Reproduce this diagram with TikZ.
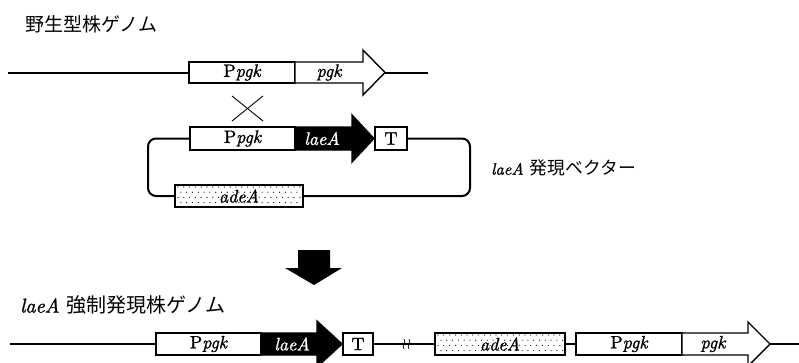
\documentclass[tikz,border=0pt]{standalone}
\usepackage{fontspec}
\setmainfont{lmroman10-regular.otf}[FakeBold=1.2, ItalicFont=lmroman10-italic.otf, ItalicFeatures={FakeBold=1.2}, BoldFont=lmroman10-bold.otf]
\newfontfamily\cjk{Noto Sans CJK JP}
\newcommand\gi[1]{{\itshape #1}}
\begin{document}
\begin{tikzpicture}[x=1pt,y=-1pt,
  gline/.style={line width=2pt},
  gbox/.style={draw, fill=white, line width=1.4pt, minimum height=22pt, inner sep=0pt, outer sep=0pt, font=\fontsize{18}{18}\selectfont},
  garrow/.style={draw, line width=1.4pt, line join=miter},
  gtext/.style={inner sep=0pt, font=\fontsize{18}{18}\selectfont},
  cross/.style={line width=0.9pt},
  dotstyle/.style={fill=black}
]
\useasboundingbox (0,0) rectangle (799,362);

% ---------- title
\node[anchor=west, inner sep=0pt] (title) at (25,24) {\cjk\fontsize{19}{19}\selectfont 野生型株ゲノム};

% ---------- wild-type genome
\coordinate (wL) at (8,72.5);
\coordinate (wR) at (428,72.5);
\draw[gline] (wL) -- (wR);
\node[gbox, minimum width=106pt, minimum height=21pt] (wP) at (242,72.5) {P\gi{pgk}};
\draw[garrow, fill=white] (295,62) -- (363,62) -- (363,50) -- (385,72.5) -- (363,95) -- (363,83) -- (295,83) -- cycle;
\node[gtext] (wG) at (329,72.5) {\gi{pgk}};

% ---------- crossover
\coordinate (c1) at (232,96);
\coordinate (c2) at (263,121);
\coordinate (c3) at (232,121);
\coordinate (c4) at (263,96);
\draw[cross] (c1) -- (c2);
\draw[cross] (c3) -- (c4);

% ---------- vector
\node[gbox, minimum width=105pt, minimum height=23pt] (vP) at (242.5,138.5) {P\gi{pgk}};
\node[gbox, minimum width=32pt, minimum height=23pt] (vT) at (391,138.5) {T};
\node[gbox, minimum width=128pt, minimum height=22pt] (vA) at (239,196) {};
\begin{scope}
  \clip (vA.north west) rectangle (vA.south east);
  \foreach \j [evaluate=\j as \off using {mod(\j,2)*2.9+3}, evaluate=\j as \yy using {\j*5.2+2}] in {0,...,4} {
    \foreach \i [evaluate=\i as \xx using {\i*5.8+\off}] in {0,...,23} {
      \fill[dotstyle] ([shift={(\xx,\yy)}]vA.north west) circle (0.6pt);
    }
  }
\end{scope}
\draw[line width=1.4pt] (vA.north west) rectangle (vA.south east);
\node[gtext] (vAt) at (vA.center) {\gi{adeA}};
\draw[garrow, fill=black] (295,127) -- (352,127) -- (352,115) -- (374,138.5) -- (352,162) -- (352,150) -- (295,150) -- cycle;
\node[gtext, text=white] (vL) at (322,138.5) {\gi{laeA}};
\coordinate (lp1) at (470,138.5);
\coordinate (lp2) at (470,196);
\coordinate (lp3) at (148,196);
\coordinate (lp4) at (148,138.5);
\draw[gline, rounded corners=8pt] (vT.east) -- (lp1) -- (lp2) -- (vA.east);
\draw[gline, rounded corners=8pt] (vA.west) -- (lp3) -- (lp4) -- (vP.west);
\node[anchor=west, inner sep=0pt] (vlabel) at (491,168) {\fontsize{16.5}{16.5}\selectfont\gi{laeA}\hspace{6pt}\cjk\fontsize{17.8}{17.8}\selectfont 発現ベクター};

% ---------- big down arrow
\fill[black] (298,250) -- (330,250) -- (330,268) -- (342,268) -- (314,285) -- (285,268) -- (298,268) -- cycle;

% ---------- lower label
\node[anchor=west, inner sep=0pt] (blabel) at (20,305) {\fontsize{20}{20}\selectfont\gi{laeA}\ \cjk\fontsize{20}{20}\selectfont 強制発現株ゲノム};

% ---------- recombinant genome
\coordinate (bL) at (10,344);
\coordinate (bR) at (799,344);
\draw[gline] (bL) -- (bR);
\node[gbox, minimum width=105pt] (bP1) at (208.5,344) {P\gi{pgk}};
\draw[garrow, fill=black] (261,333) -- (317,333) -- (317,321) -- (342,344) -- (317,367) -- (317,355) -- (261,355) -- cycle;
\node[gtext, text=white] (bL1) at (292,344) {\gi{laeA}};
\node[gbox, minimum width=30pt] (bT) at (358,344) {T};
% break marks
\coordinate (s1) at (404,344);
\coordinate (s2) at (409,344);
\foreach \c in {s1,s2} {
  \draw[line width=0.7pt] ([shift={(0,-5)}]\c) .. controls ([shift={(3,-2)}]\c) and ([shift={(-3,2)}]\c) .. ([shift={(0,5)}]\c);
}
\node[gbox, minimum width=130pt] (bA) at (500,344) {};
\begin{scope}
  \clip (bA.north west) rectangle (bA.south east);
  \foreach \j [evaluate=\j as \off using {mod(\j,2)*2.9+3}, evaluate=\j as \yy using {\j*5.2+2}] in {0,...,4} {
    \foreach \i [evaluate=\i as \xx using {\i*5.8+\off}] in {0,...,23} {
      \fill[dotstyle] ([shift={(\xx,\yy)}]bA.north west) circle (0.6pt);
    }
  }
\end{scope}
\draw[line width=1.4pt] (bA.north west) rectangle (bA.south east);
\node[gtext] (bAt) at (bA.center) {\gi{adeA}};
\node[gbox, minimum width=106pt] (bP2) at (629,344) {P\gi{pgk}};
\draw[garrow, fill=white] (682,333) -- (748,333) -- (748,322) -- (770,344) -- (748,366) -- (748,355) -- (682,355) -- cycle;
\node[gtext] (bG) at (713,344) {\gi{pgk}};
\end{tikzpicture}
\end{document}
